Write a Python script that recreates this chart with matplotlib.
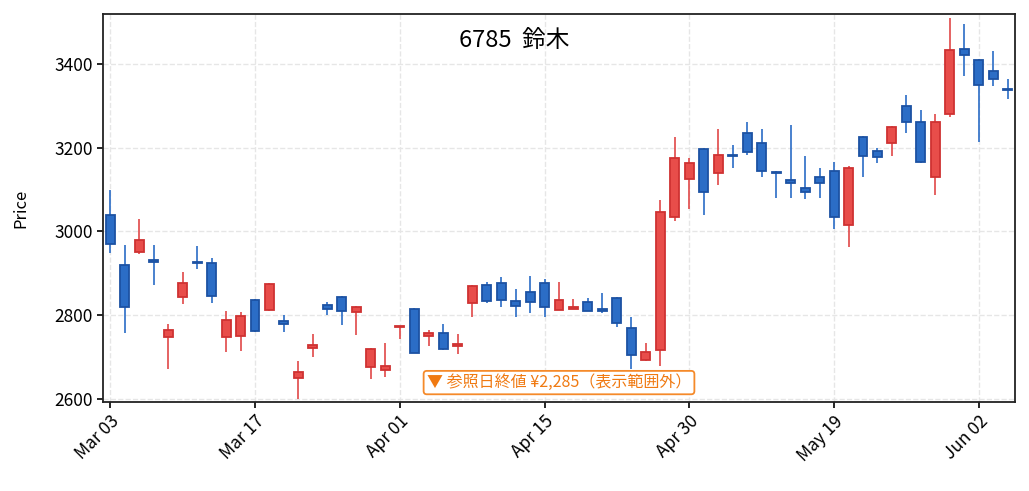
import matplotlib
matplotlib.use("Agg")
import matplotlib.pyplot as plt
import numpy as np

plt.rcParams['font.family'] = ['Noto Sans CJK JP', 'DejaVu Sans']

dates = ["Mar 03", "Mar 04", "Mar 05", "Mar 06", "Mar 07", "Mar 10", "Mar 11", "Mar 12", "Mar 13", "Mar 14",
         "Mar 17", "Mar 18", "Mar 19", "Mar 21", "Mar 24", "Mar 25", "Mar 26", "Mar 27", "Mar 28", "Mar 31",
         "Apr 01", "Apr 02", "Apr 03", "Apr 04", "Apr 07", "Apr 08", "Apr 09", "Apr 10", "Apr 11", "Apr 14",
         "Apr 15", "Apr 16", "Apr 17", "Apr 18", "Apr 21", "Apr 22", "Apr 23", "Apr 24", "Apr 25", "Apr 28",
         "Apr 30", "May 01", "May 07", "May 08", "May 09", "May 12", "May 13", "May 14", "May 15", "May 16",
         "May 19", "May 20", "May 21", "May 22", "May 23", "May 26", "May 27", "May 28", "May 29", "May 30",
         "Jun 02", "Jun 03", "Jun 04"]

opens = [3040, 2920, 2951, 2931, 2747, 2844, 2928, 2925, 2749, 2751,
         2836, 2812, 2787, 2650, 2722, 2824, 2844, 2808, 2676, 2669,
         2773, 2816, 2751, 2757, 2726, 2830, 2873, 2876, 2835, 2856,
         2878, 2813, 2815, 2832, 2816, 2842, 2770, 2693, 2717, 3035,
         3125, 3196, 3139, 3182, 3236, 3212, 3141, 3122, 3103, 3131,
         3145, 3016, 3226, 3191, 3211, 3300, 3262, 3131, 3281, 3436,
         3410, 3382, 3340]
highs = [3100, 2967, 3030, 2967, 2778, 2903, 2965, 2936, 2809, 2807,
         2838, 2876, 2800, 2691, 2755, 2832, 2846, 2821, 2721, 2733,
         2775, 2817, 2765, 2779, 2755, 2872, 2879, 2891, 2862, 2894,
         2886, 2879, 2838, 2840, 2852, 2843, 2795, 2733, 3074, 3225,
         3175, 3199, 3244, 3207, 3262, 3245, 3144, 3254, 3180, 3152,
         3166, 3156, 3228, 3200, 3251, 3326, 3290, 3281, 3510, 3496,
         3411, 3430, 3364]
lows = [2948, 2758, 2945, 2873, 2672, 2828, 2910, 2830, 2713, 2715,
        2760, 2811, 2761, 2601, 2701, 2801, 2777, 2754, 2647, 2653,
        2743, 2709, 2727, 2718, 2707, 2797, 2830, 2820, 2795, 2805,
        2797, 2812, 2814, 2809, 2806, 2773, 2672, 2692, 2680, 3026,
        3053, 3040, 3112, 3152, 3182, 3131, 3081, 3081, 3077, 3081,
        3007, 2962, 3131, 3163, 3181, 3236, 3163, 3086, 3273, 3372,
        3213, 3346, 3317]
closes = [2970, 2820, 2980, 2928, 2765, 2878, 2925, 2846, 2789, 2799,
          2762, 2875, 2779, 2665, 2730, 2814, 2810, 2820, 2720, 2680,
          2775, 2710, 2757, 2719, 2732, 2871, 2835, 2836, 2822, 2831,
          2819, 2836, 2819, 2810, 2810, 2781, 2704, 2713, 3047, 3176,
          3163, 3095, 3182, 3180, 3190, 3145, 3139, 3116, 3095, 3116,
          3035, 3152, 3180, 3177, 3250, 3261, 3166, 3262, 3432, 3421,
          3350, 3365, 3337]

title_text = "6785  鈴木"
note_text = "▼ 参照日終値 ¥2,285（表示範囲外）"

UP_FACE, UP_EDGE = "#e84d4a", "#cf3232"
DN_FACE, DN_EDGE = "#2b6dc6", "#1c52a3"

fig = plt.figure(figsize=(10.29, 4.91), dpi=100)
ax = fig.add_axes([0.1001, 0.1813, 0.8863, 0.7902])

x = np.arange(len(dates))
o = np.array(opens, float); c = np.array(closes, float)
h = np.array(highs, float); l = np.array(lows, float)
up = c >= o

wick_colors = np.where(up, "#e04848", "#2a6cc6")
ax.vlines(x, l, h, colors=wick_colors, linewidth=1.2, zorder=2)

bottoms = np.minimum(o, c)
heights = np.maximum(np.abs(c - o), 1.5)
faces = np.where(up, UP_FACE, DN_FACE)
edges = np.where(up, UP_EDGE, DN_EDGE)
ax.bar(x, heights, bottom=bottoms, width=0.62, color=faces, edgecolor=edges,
       linewidth=1.3, zorder=3)

ax.set_xlim(-0.5, 62.5)
ax.set_ylim(2593, 3519)
ax.set_yticks([2600, 2800, 3000, 3200, 3400])
ticks = list(range(0, len(dates), 10))
ax.set_xticks(ticks)
ax.set_xticklabels([dates[i] for i in ticks], rotation=45, ha="right",
                   rotation_mode="anchor")
ax.tick_params(axis="both", labelsize=12.5, width=1.2, length=4)
ax.set_ylabel("Price", fontsize=12, labelpad=18)
ax.grid(True, linestyle="--", color="#e6e6e6", linewidth=1.0, zorder=0)
ax.set_axisbelow(True)
for s in ax.spines.values():
    s.set_linewidth(1.3)
    s.set_color("#222222")

fig.text(0.5, 0.918, title_text, ha="center", va="center", fontsize=17)

ax.text(0.5, 0.05, note_text, transform=ax.transAxes, ha="center", va="center",
        fontsize=11.5, color="#f07a12", zorder=5,
        bbox=dict(boxstyle="round,pad=0.2", facecolor="white",
                  edgecolor="#f58a2a", linewidth=1.3))

fig.savefig("out.png", dpi=100)
